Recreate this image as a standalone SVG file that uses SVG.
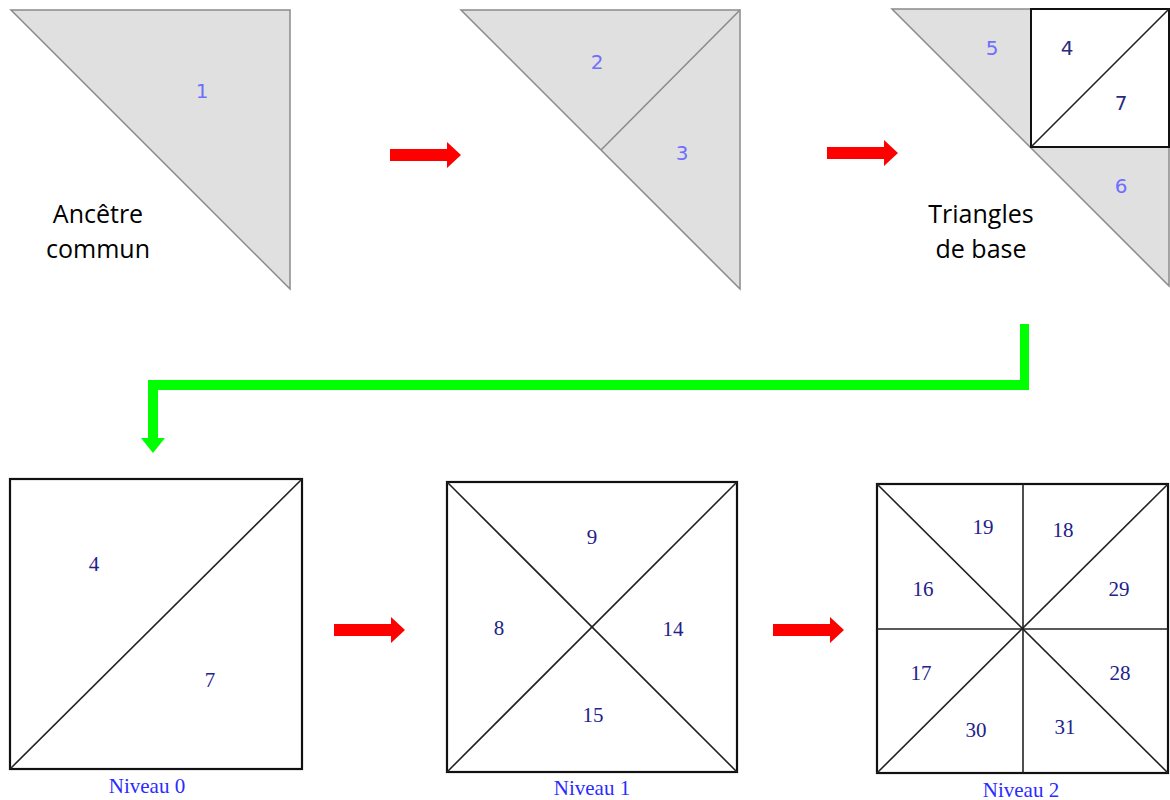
<svg xmlns="http://www.w3.org/2000/svg" width="1170" height="800" viewBox="0 0 1170 800">
<style>
.tri{fill:#e0e0e0;stroke:#8a8a8a;stroke-width:1.5;stroke-linejoin:miter}
.ln{stroke:#8a8a8a;stroke-width:1.5;fill:none}
.sq{fill:#fff;stroke:#111;stroke-width:2.2}
.dg{stroke:#222;stroke-width:1.6;fill:none}
.lt{font-family:"DejaVu Sans",Verdana,sans-serif;font-size:20px;fill:#6e6eff;text-anchor:middle;dominant-baseline:central}
.ld{font-family:"DejaVu Sans",Verdana,sans-serif;font-size:20px;fill:#2a2a80;text-anchor:middle;dominant-baseline:central}
.num{font-family:"Liberation Serif","Times New Roman",serif;font-size:21px;fill:#22228a;text-anchor:middle;dominant-baseline:central}
.niv{font-family:"Liberation Serif","Times New Roman",serif;font-size:21px;fill:#2b2bff;text-anchor:middle}
.cap{font-family:"Open Sans","Liberation Sans",sans-serif;font-size:25px;fill:#000;text-anchor:middle}
.red{fill:#ff0000}
.grn{fill:#00ff00}
</style>
<g id="ancetre">
<polygon class="tri" points="11,10 290,10 290,289"/>
<text class="lt" x="202" y="91">1</text>
<text class="cap" x="98" y="223">Ancêtre</text>
<text class="cap" x="98" y="258">commun</text>
</g>
<g id="division">
<polygon class="tri" points="461,10 740,10 740,289"/>
<line class="ln" x1="740" y1="10" x2="601" y2="150"/>
<text class="lt" x="597" y="62">2</text>
<text class="lt" x="682" y="153">3</text>
</g>
<g id="triangles-base">
<polygon class="tri" points="892,9 1169,9 1169,286"/>
<rect x="1031" y="9" width="138" height="138" fill="#fff" stroke="#111" stroke-width="2"/>
<line class="dg" x1="1031" y1="147" x2="1169" y2="9"/>
<text class="lt" x="992" y="48">5</text>
<text class="ld" x="1067" y="48">4</text>
<text class="ld" x="1121" y="103">7</text>
<text class="lt" x="1121" y="186">6</text>
<text class="cap" x="981" y="223">Triangles</text>
<text class="cap" x="981" y="258">de base</text>
</g>
<g id="niveau0">
<rect class="sq" x="10" y="479" width="292" height="290"/>
<line class="dg" x1="10" y1="769" x2="302" y2="479"/>
<text class="num" x="94" y="564">4</text>
<text class="num" x="210" y="680">7</text>
<text class="niv" x="147" y="793">Niveau 0</text>
</g>
<g id="niveau1">
<rect class="sq" x="447" y="482" width="290" height="290"/>
<line class="dg" x1="447" y1="482" x2="737" y2="772"/>
<line class="dg" x1="447" y1="772" x2="737" y2="482"/>
<text class="num" x="592" y="537">9</text>
<text class="num" x="499" y="628">8</text>
<text class="num" x="673" y="629">14</text>
<text class="num" x="593" y="715">15</text>
<text class="niv" x="592" y="795">Niveau 1</text>
</g>
<g id="niveau2">
<rect class="sq" x="877" y="484" width="291" height="289"/>
<line class="dg" x1="877" y1="484" x2="1168" y2="773"/>
<line class="dg" x1="877" y1="773" x2="1168" y2="484"/>
<line class="dg" x1="1023" y1="484" x2="1023" y2="773"/>
<line class="dg" x1="877" y1="629" x2="1168" y2="629"/>
<text class="num" x="983" y="527">19</text>
<text class="num" x="1063" y="530">18</text>
<text class="num" x="923" y="589">16</text>
<text class="num" x="1119" y="589">29</text>
<text class="num" x="921" y="673">17</text>
<text class="num" x="1120" y="673">28</text>
<text class="num" x="976" y="730">30</text>
<text class="num" x="1065" y="727">31</text>
<text class="niv" x="1021" y="797">Niveau 2</text>
</g>
<g id="connectors">
<polygon class="red" points="390,149 447,149 447,142 461,155 447,168 447,161 390,161"/>
<polygon class="red" points="827,147 884,147 884,140 898,153 884,166 884,159 827,159"/>
<polygon class="red" points="334,624 391,624 391,617 405,630 391,643 391,636 334,636"/>
<polygon class="red" points="773,624 830,624 830,617 844,630 830,643 830,636 773,636"/>
<polygon class="grn" points="1020,324 1029,324 1029,390 158,390 158,438 165,438 153,453 141,438 148,438 148,380 1020,380"/>
</g>
</svg>
